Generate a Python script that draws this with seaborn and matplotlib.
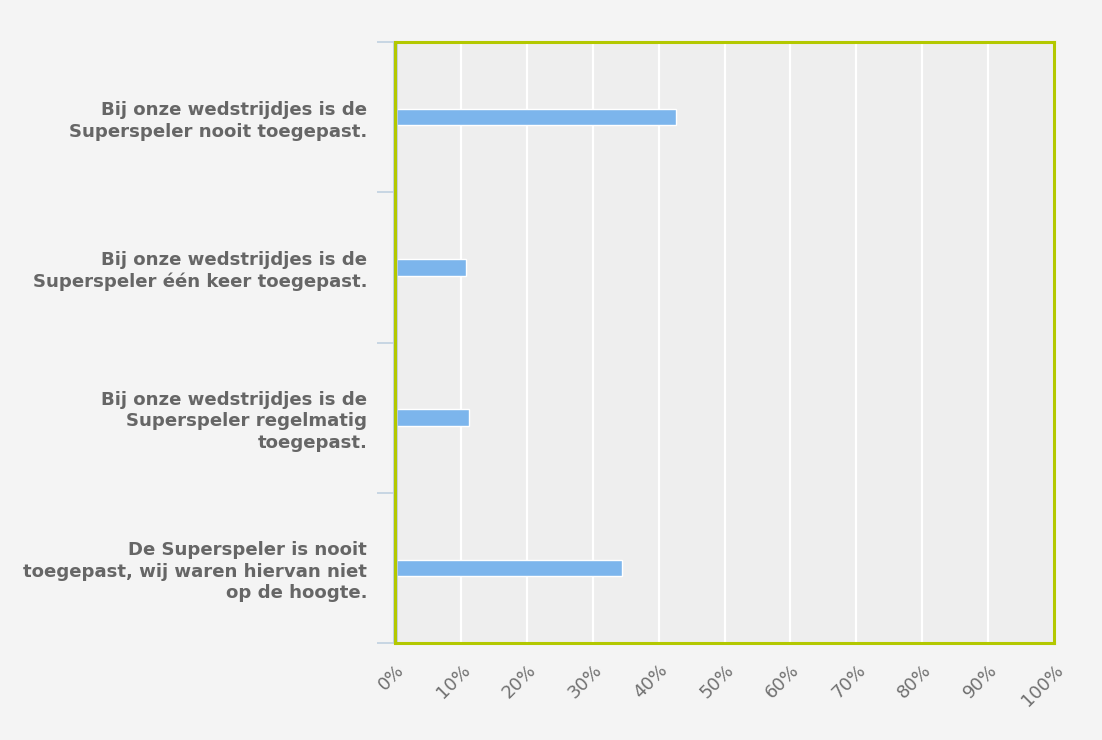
import matplotlib
matplotlib.use("Agg")
import matplotlib.pyplot as plt
import pandas as pd
import seaborn as sns
from matplotlib.ticker import FixedLocator, MultipleLocator, PercentFormatter

categories = [
    "Bij onze wedstrijdjes is de\nSuperspeler nooit toegepast.",
    "Bij onze wedstrijdjes is de\nSuperspeler één keer toegepast.",
    "Bij onze wedstrijdjes is de\nSuperspeler regelmatig\ntoegepast.",
    "De Superspeler is nooit\ntoegepast, wij waren hiervan niet\nop de hoogte.",
]
percentages = [42.7, 10.7, 11.3, 34.5]

df = pd.DataFrame({"antwoord": categories, "percentage": percentages})

sns.set_theme(style="white")
plt.rcParams["font.family"] = ["DejaVu Sans"]

fig = plt.figure(figsize=(11.02, 7.40), dpi=100, facecolor="#f4f4f4")
ax = fig.add_axes([395 / 1102, 1 - 643 / 740, 659 / 1102, 601 / 740])
ax.set_facecolor("#eeeeee")

sns.barplot(
    data=df,
    x="percentage",
    y="antwoord",
    orient="h",
    color="#7cb5ec",
    saturation=1,
    width=0.11,
    edgecolor="white",
    linewidth=1,
    ax=ax,
    zorder=3,
)

ax.set_xlim(0, 100)
ax.set_ylim(len(categories) - 0.5, -0.5)
ax.xaxis.set_major_locator(MultipleLocator(10))
ax.xaxis.set_major_formatter(PercentFormatter(decimals=0))
ax.grid(axis="x", color="white", linewidth=1.6, zorder=1)
ax.grid(axis="y", visible=False)

# kleine streepjes tussen de categorieën
ax.yaxis.set_minor_locator(FixedLocator([i - 0.5 for i in range(len(categories) + 1)]))
ax.tick_params(axis="y", which="major", left=True, length=0, pad=20,
               labelsize=13.1, labelcolor="#666666")
ax.tick_params(axis="y", which="minor", left=True, length=13, width=1.2,
               color="#c0d0e0", direction="out")
for lbl in ax.get_yticklabels():
    lbl.set_fontweight("bold")
    lbl.set_horizontalalignment("right")
    lbl.set_multialignment("right")
    lbl.set_linespacing(1.25)

ax.tick_params(axis="x", length=0, pad=13, labelsize=13, labelcolor="#707070")
for lbl in ax.get_xticklabels():
    lbl.set_rotation(45)
    lbl.set_horizontalalignment("right")
    lbl.set_rotation_mode("anchor")

ax.set_xlabel("")
ax.set_ylabel("")

# lichtblauwe as-lijn links, achter de groene rand
ax.axvline(0, color="#c0d0e0", linewidth=3.5, zorder=4, clip_on=False,
           solid_capstyle="butt")

for side in ["top", "right", "bottom", "left"]:
    ax.spines[side].set_visible(True)
    ax.spines[side].set_color("#b3c800")
    ax.spines[side].set_linewidth(2.2)
    ax.spines[side].set_zorder(5)

fig.savefig("out.png", dpi=100, facecolor=fig.get_facecolor())
